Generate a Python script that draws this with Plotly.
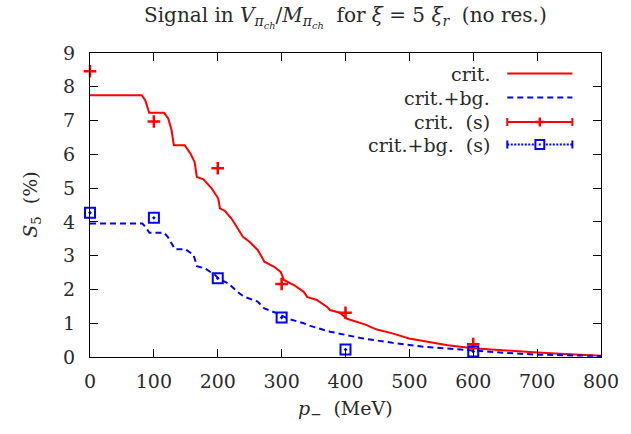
import plotly.graph_objects as go

# ---- data ----
crit_p = [0, 81, 86.5, 90, 92.7, 116, 122.5, 127.7, 131.3, 148.3, 157, 163.7, 167.3, 177.6, 190.5,
          200.8, 203.4, 211.1, 221.4, 226.5, 236.8, 239.4, 249.7, 262.5, 270.3, 272.9, 288.3, 298.6,
          303.7, 308.9, 319.2, 334.6, 339.8, 355.2, 370.7, 375.8, 391.3, 401.5, 411.8, 432.4, 447.9,
          473.6, 499.4, 525.1, 560, 600, 650, 700, 750, 800]
crit_v = [7.75, 7.75, 7.60, 7.41, 7.23, 7.23, 7.06, 6.72, 6.27, 6.27, 6.03, 5.78, 5.33, 5.26, 4.99,
          4.69, 4.40, 4.33, 4.10, 3.95, 3.61, 3.56, 3.41, 3.17, 2.92, 2.82, 2.67, 2.52,
          2.28, 2.23, 2.13, 1.93, 1.78, 1.69, 1.49, 1.39, 1.31, 1.14, 1.07, 0.95, 0.82,
          0.70, 0.55, 0.46, 0.35, 0.26, 0.19, 0.13, 0.08, 0.04]

bg_p = [0, 82, 87, 93, 116, 122, 128, 133, 149.4, 162.2, 167.3, 180.2, 195.6, 200.8, 216.2, 234.2,
        242, 262.5, 272.9, 293.4, 308.9, 334.6, 344.9, 375.8, 427.3, 473.6, 525, 600, 650, 700, 750, 800]
bg_v = [3.95, 3.95, 3.85, 3.68, 3.68, 3.55, 3.35, 3.19, 3.19, 3.02, 2.69, 2.62, 2.43, 2.33, 2.18, 1.88,
        1.78, 1.64, 1.44, 1.29, 1.14, 1.00, 0.92, 0.75, 0.55, 0.42, 0.30, 0.18, 0.12, 0.07, 0.05, 0.03]

s_p = [0, 100, 200, 300, 400, 600]
crit_s = [8.46, 6.97, 5.59, 2.16, 1.31, 0.38]
bg_s = [4.27, 4.12, 2.33, 1.17, 0.22, 0.16]

x_ticks = [0, 100, 200, 300, 400, 500, 600, 700, 800]
y_ticks = [0, 1, 2, 3, 4, 5, 6, 7, 8, 9]

legend_labels = ["crit.", "crit.+bg.", "crit.  (s)", "crit.+bg.  (s)"]

RED = "#ff0000"
BLUE = "#0000ff"
FONT = "'DejaVu Serif', serif"
TXT = "#2a2a2a"
FS = 19

# plot area in pixels
L, R, T, B = 90, 608, 53, 357
W, H = 631, 434

def xp(px):
    return (px - L) / (R - L)

def yp(py):
    return (B - py) / (B - T)

fig = go.Figure()
fig.add_trace(go.Scatter(x=crit_p, y=crit_v, mode="lines", line=dict(color=RED, width=2),
                         showlegend=False))
fig.add_trace(go.Scatter(x=bg_p, y=bg_v, mode="lines", line=dict(color=BLUE, width=2, dash="6px,4px"),
                         showlegend=False))
fig.add_trace(go.Scatter(x=s_p, y=crit_s, mode="markers", cliponaxis=False,
                         marker=dict(symbol="cross-thin", size=9, line=dict(color=RED, width=2.5)),
                         showlegend=False))
fig.add_trace(go.Scatter(x=s_p, y=bg_s, mode="markers", cliponaxis=False,
                         marker=dict(symbol="square-open-dot", size=10, color=BLUE,
                                     line=dict(color=BLUE, width=2)),
                         showlegend=False))

shapes = []
annotations = []
rows_y = [73.5, 97.5, 122, 144.5]
x0, x1 = 513, 579
xm = (x0 + x1) / 2
for i, (lab, ry) in enumerate(zip(legend_labels, rows_y)):
    annotations.append(dict(x=xp(497), y=yp(ry), xref="paper", yref="paper", text=lab,
                            showarrow=False, xanchor="right", yanchor="middle",
                            font=dict(family=FONT, size=FS, color=TXT)))
    color = RED if i in (0, 2) else BLUE
    dash = "solid" if i in (0, 2) else ("6px,4px" if i == 1 else "2px,1.5px")
    shapes.append(dict(type="line", xref="paper", yref="paper", x0=xp(x0), x1=xp(x1),
                       y0=yp(ry), y1=yp(ry), line=dict(color=color, width=2, dash=dash)))
    if i >= 2:
        for ex in (x0, x1):
            shapes.append(dict(type="line", xref="paper", yref="paper", x0=xp(ex), x1=xp(ex),
                               y0=yp(ry - 4), y1=yp(ry + 4), line=dict(color=color, width=2)))
    if i == 2:
        shapes.append(dict(type="line", xref="paper", yref="paper", x0=xp(xm - 4.5), x1=xp(xm + 4.5),
                           y0=yp(ry), y1=yp(ry), line=dict(color=RED, width=2.5)))
        shapes.append(dict(type="line", xref="paper", yref="paper", x0=xp(xm), x1=xp(xm),
                           y0=yp(ry - 4.5), y1=yp(ry + 4.5), line=dict(color=RED, width=2.5)))
    if i == 3:
        shapes.append(dict(type="rect", xref="paper", yref="paper", x0=xp(xm - 4.5), x1=xp(xm + 4.5),
                           y0=yp(ry - 4.5), y1=yp(ry + 4.5), fillcolor="white",
                           line=dict(color=BLUE, width=2)))
        shapes.append(dict(type="rect", xref="paper", yref="paper", x0=xp(xm - 1), x1=xp(xm + 1),
                           y0=yp(ry - 1), y1=yp(ry + 1), fillcolor=BLUE, line=dict(width=0)))

annotations.append(dict(x=0.5, y=yp(17), xref="paper", yref="paper", showarrow=False,
                        text="Signal in <i>V</i><sub><i>π</i><sub><i>ch</i></sub></sub>/<i>M</i><sub><i>π</i><sub><i>ch</i></sub></sub>  for <i>ξ</i> = 5 <i>ξ</i><sub><i>r</i></sub>  (no res.)",
                        font=dict(family=FONT, size=20, color=TXT), xanchor="center", yanchor="middle"))
annotations.append(dict(x=0.5, y=yp(409), xref="paper", yref="paper", showarrow=False,
                        text="<i>p</i><sub>−</sub>  (MeV)",
                        font=dict(family=FONT, size=FS, color=TXT), xanchor="center", yanchor="middle"))
annotations.append(dict(x=xp(30), y=yp(205), xref="paper", yref="paper", showarrow=False,
                        text="<i>S</i><sub>5</sub>  (%)", textangle=-90,
                        font=dict(family=FONT, size=FS, color=TXT), xanchor="center", yanchor="middle"))

axis_common = dict(showline=True, linecolor="black", linewidth=1, mirror="allticks",
                   ticks="inside", ticklen=8, tickcolor="black", tickwidth=1,
                   showgrid=False, zeroline=False,
                   tickfont=dict(family=FONT, size=FS, color=TXT))

fig.update_layout(
    width=W, height=H,
    margin=dict(l=L, r=W - R, t=T, b=H - B),
    paper_bgcolor="white", plot_bgcolor="white",
    font=dict(family=FONT),
    xaxis=dict(range=[0, 800], tickvals=x_ticks, ticklabelstandoff=7, **axis_common),
    yaxis=dict(range=[0, 9], tickvals=y_ticks, ticklabelstandoff=10, **axis_common),
    shapes=shapes, annotations=annotations, showlegend=False,
)

fig.write_html("out.html")
